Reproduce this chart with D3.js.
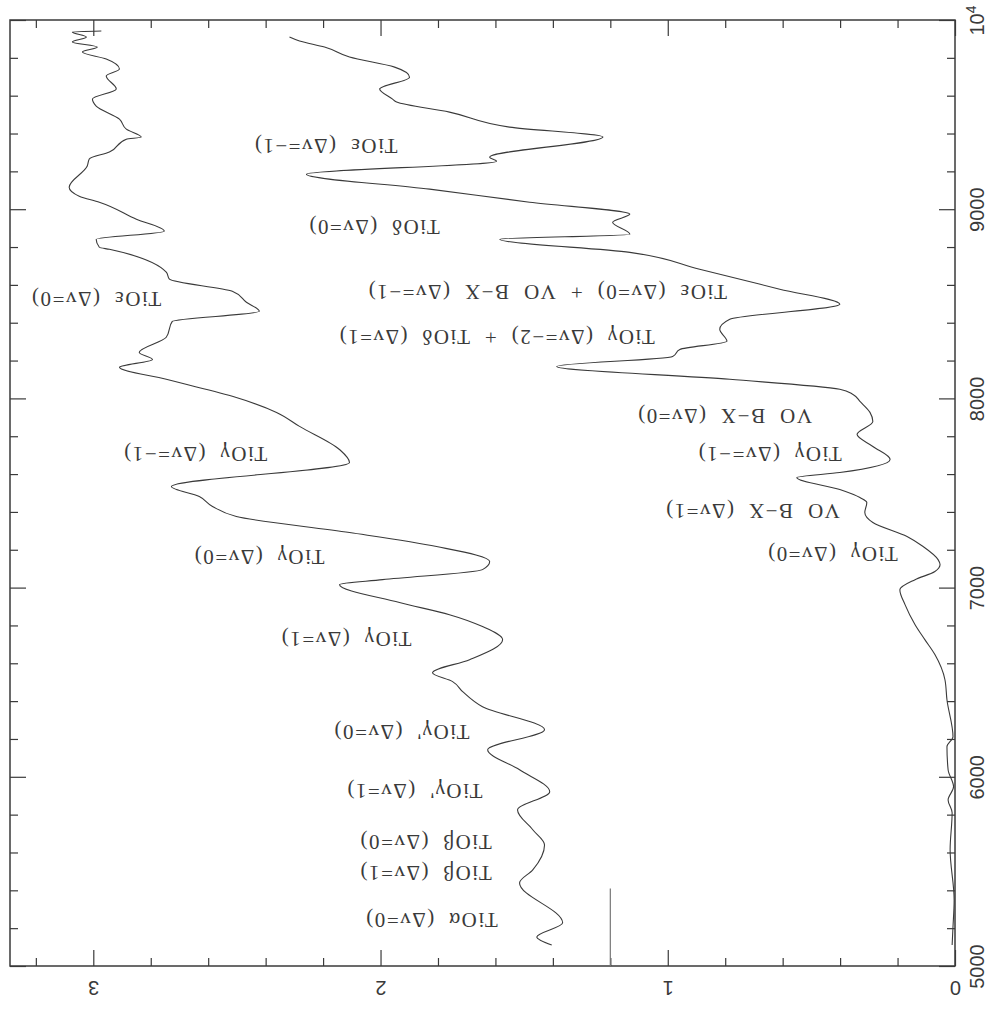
<!DOCTYPE html>
<html>
<head>
<meta charset="utf-8">
<script src="https://cdn.jsdelivr.net/npm/d3@7"></script>
<style>
  body { margin: 0; background: #fff; }
  .lbl { font-family: "Liberation Serif", "DejaVu Serif", serif; font-size: 21px; fill: #3a3a3a; letter-spacing: 1.5px; white-space: pre; }
  .tick text { font-family: "Liberation Sans", Arial, sans-serif; font-size: 20px; fill: #3a3a3a; }
</style>
</head>
<body>
<div id="chart"></div>
<script>

// spectra: wavelength (A) and flux
var upperWave = [5111,5153,5228,5439,5508,5640,5720,5825,5921,6037,6143,6249,6370,6450,6503,6550,6619,6725,6794,6857,6921,7016,7042,7095,7138,7217,7291,7376,7429,7481,7534,7661,7730,7852,7926,8011,8101,8164,8206,8243,8323,8407,8460,8508,8566,8630,8667,8788,8799,8841,8884,8947,9037,9069,9116,9228,9265,9302,9370,9381,9423,9476,9545,9582,9635,9704,9741,9794,9831,9857,9884,9910,9937,9942];
var upperFlux = [1.404,1.456,1.366,1.516,1.470,1.429,1.470,1.523,1.411,1.516,1.627,1.429,1.645,1.714,1.749,1.819,1.690,1.575,1.645,1.760,1.934,2.143,1.993,1.645,1.620,1.805,2.108,2.502,2.585,2.631,2.728,2.108,2.143,2.282,2.362,2.516,2.746,2.909,2.794,2.840,2.746,2.725,2.422,2.467,2.516,2.735,2.746,2.944,2.979,2.990,2.753,2.850,2.979,3.049,3.084,3.021,3.014,2.944,2.885,2.833,2.885,2.909,2.990,3.003,2.920,2.955,2.909,2.955,3.038,2.986,3.073,3.024,3.073,2.972];

var lowerWave = [5111,5206,5349,5614,5810,5878,5947,6037,6159,6212,6407,6513,6646,6725,6804,6910,6989,7042,7085,7122,7148,7217,7270,7344,7397,7450,7476,7518,7582,7608,7677,7746,7810,7878,7926,7984,8021,8048,8101,8169,8222,8259,8302,8365,8418,8497,8577,8683,8772,8841,8868,8931,8974,9037,9106,9185,9254,9275,9381,9434,9513,9566,9582,9635,9698,9751,9804,9857,9889,9910];
var lowerFlux = [0.010,0.007,0.003,0.017,0.010,0.024,0.005,0.024,0.028,0.007,0.028,0.035,0.070,0.105,0.139,0.174,0.192,0.139,0.070,0.052,0.059,0.111,0.167,0.286,0.314,0.307,0.331,0.401,0.551,0.401,0.226,0.286,0.341,0.286,0.296,0.331,0.355,0.401,0.784,1.387,0.983,0.958,0.794,0.819,0.784,0.401,0.610,0.889,1.132,1.585,1.132,1.192,1.132,1.481,1.829,2.258,1.596,1.620,1.226,1.551,1.760,1.944,1.958,2.003,1.899,1.951,2.108,2.195,2.282,2.317];

// band labels, anchored where the text starts
var labelText = [
  "TiOα  (Δv=0)", "TiOβ  (Δv=1)", "TiOβ  (Δv=0)", "TiOγ'  (Δv=1)", "TiOγ'  (Δv=0)",
  "TiOγ  (Δv=1)", "TiOγ  (Δv=0)", "TiOγ  (Δv=−1)", "TiOε  (Δv=0)", "TiOε  (Δv=−1)",
  "TiOδ  (Δv=0)", "TiOε  (Δv=0)  +  VO  B−X  (Δv=−1)", "TiOγ  (Δv=−2)  +  TiOδ  (Δv=1)",
  "VO  B−X  (Δv=0)", "TiOγ  (Δv=−1)", "VO  B−X  (Δv=1)", "TiOγ  (Δv=0)"
];
var labelWave = [5243,5492,5651,5921,6233,6725,7159,7704,8524,9333,8905,8561,8323,7905,7704,7402,7175];
var labelFlux = [1.592,1.613,1.613,1.645,1.690,1.892,2.195,2.394,2.763,1.941,1.794,0.794,1.045,0.498,0.394,0.401,0.199];

var waveMajor = [5000,6000,7000,8000,9000,10000];
var waveMinor = d3.range(5200, 10000, 200).filter(function(v) { return v % 1000 != 0; });
var fluxMajor = [0,1,2,3];
var fluxMinor = [0.2,0.4,0.6,0.8,1.2,1.4,1.6,1.8,2.2,2.4,2.6,2.8,3.2];

var width = 994, height = 1010;
var padL = 10, padR = 955, padT = 20, padB = 966;

var svg = d3.select("#chart").append("svg")
    .attr("width", width)
    .attr("height", height);

var x = d3.scaleLinear().domain([0, 3.29]).range([padR, padL]);
var y = d3.scaleLinear().domain([5000, 10000]).range([padB, padT]);

var ink = "#3a3a3a";

function noDomain(g) {
  g.select(".domain").remove();
  g.selectAll(".tick line").attr("stroke", ink).attr("stroke-width", 1.2);
}

// wavelength axis on the right, labels turned
svg.append("g").attr("transform", "translate(" + padR + ",0)")
    .call(d3.axisRight(y).tickValues(waveMinor).tickSize(-8).tickFormat(""))
    .call(noDomain);
var wr = svg.append("g").attr("transform", "translate(" + padR + ",0)")
    .call(d3.axisRight(y).tickValues(waveMajor).tickSize(-16).tickPadding(22))
    .call(noDomain);
wr.selectAll(".tick text")
    .attr("text-anchor", "middle")
    .attr("dy", "0.35em")
    .attr("transform", "rotate(-90,22,0)")
    .each(function(d) {
      var t = d3.select(this);
      if (d == 10000) {
        t.text("10");
        t.append("tspan").attr("baseline-shift", "super").attr("font-size", "14px").text("4");
      } else {
        t.text(d);
      }
    });

// mirrored wavelength ticks on the left
svg.append("g").attr("transform", "translate(" + padL + ",0)")
    .call(d3.axisLeft(y).tickValues(waveMinor).tickSize(-8).tickFormat(""))
    .call(noDomain);
svg.append("g").attr("transform", "translate(" + padL + ",0)")
    .call(d3.axisLeft(y).tickValues(waveMajor).tickSize(-16).tickFormat(""))
    .call(noDomain);

// flux axis at the bottom, labels upside down
svg.append("g").attr("transform", "translate(0," + padB + ")")
    .call(d3.axisBottom(x).tickValues(fluxMinor).tickSize(-8).tickFormat(""))
    .call(noDomain);
var fb = svg.append("g").attr("transform", "translate(0," + padB + ")")
    .call(d3.axisBottom(x).tickValues(fluxMajor).tickSize(-16).tickPadding(22).tickFormat(d3.format("d")))
    .call(noDomain);
fb.selectAll(".tick text")
    .attr("y", 22)
    .attr("dy", "0.35em")
    .attr("transform", "rotate(180,0,22)");

svg.append("g").attr("transform", "translate(0," + padT + ")")
    .call(d3.axisTop(x).tickValues(fluxMinor).tickSize(-8).tickFormat(""))
    .call(noDomain);
svg.append("g").attr("transform", "translate(0," + padT + ")")
    .call(d3.axisTop(x).tickValues(fluxMajor).tickSize(-16).tickFormat(""))
    .call(noDomain);

// frame
svg.append("rect")
    .attr("x", padL).attr("y", padT)
    .attr("width", padR - padL).attr("height", padB - padT)
    .attr("fill", "none").attr("stroke", ink).attr("stroke-width", 1.5);

var line = d3.line()
    .curve(d3.curveMonotoneY)
    .x(function(d) { return x(d[1]); })
    .y(function(d) { return y(d[0]); });

svg.append("path")
    .datum(d3.zip(upperWave, upperFlux))
    .attr("d", line)
    .attr("fill", "none").attr("stroke", ink).attr("stroke-width", 1.1);

svg.append("path")
    .datum(d3.zip(lowerWave, lowerFlux))
    .attr("d", line)
    .attr("fill", "none").attr("stroke", ink).attr("stroke-width", 1.1);

// short marker line near the start
svg.append("line")
    .attr("x1", x(1.2)).attr("x2", x(1.2))
    .attr("y1", y(5000)).attr("y2", y(5410))
    .attr("stroke", "#777").attr("stroke-width", 1.2);

svg.append("g").selectAll("text")
    .data(labelText)
    .enter().append("text")
    .attr("class", "lbl")
    .attr("transform", function(d, i) {
      return "translate(" + x(labelFlux[i]) + "," + y(labelWave[i]) + ") rotate(180)";
    })
    .attr("dy", "0.35em")
    .text(function(d) { return d; });

</script>
</body>
</html>
